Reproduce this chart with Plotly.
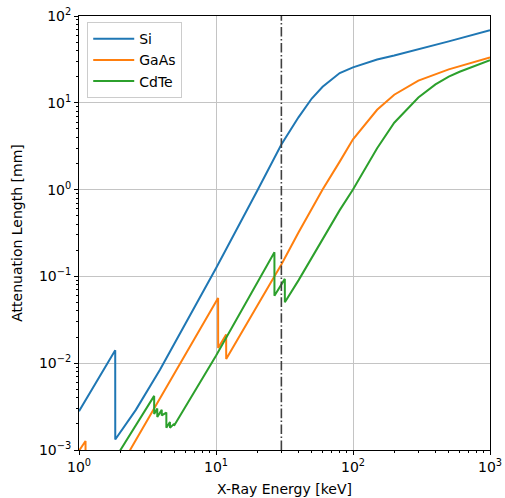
import plotly.graph_objects as go

# ---- data ----
si_energy = [1.0, 1.838, 1.839, 2.6, 3.9, 10, 20, 30, 40, 50, 60, 80, 100, 150, 200, 300, 500, 1000]
si_length = [0.00279, 0.0141, 0.00132, 0.0029, 0.0084, 0.124, 0.97, 3.3, 6.8, 11.2, 15.3, 22.0, 25.6, 31.5, 35.0, 41.0, 51.0, 68.5]

gaas_energy = [1.0, 1.116, 1.117, 2.36, 10.36, 10.37, 11.86, 11.87, 20, 30, 40, 50, 60, 80, 100, 150, 200, 300, 500, 1000]
gaas_length = [0.00098, 0.00127, 0.00022, 0.001, 0.0565, 0.015, 0.0214, 0.0112, 0.046, 0.137, 0.32, 0.6, 1.0, 2.1, 3.8, 8.3, 12.4, 18.0, 24.3, 33.4]

cdte_energy = [1.9, 3.537, 3.538, 3.727, 3.728, 4.018, 4.019, 4.341, 4.342, 4.612, 4.613, 4.939, 4.94,
               10, 26.70, 26.71, 31.80, 31.81, 40, 50, 60, 80, 100, 150, 200, 300, 400, 500, 600, 800, 1000]
cdte_length = [0.00087, 0.0042, 0.0026, 0.003, 0.0024, 0.0029, 0.0025, 0.0027, 0.0018, 0.0021, 0.0018, 0.002, 0.0019,
               0.0122, 0.19, 0.06, 0.0936, 0.0503, 0.09, 0.165, 0.27, 0.58, 1.0, 3.0, 5.9, 11.5, 16.3, 20.0, 22.8, 27.0, 31.0]

marker_energy = 30  # keV, dash-dot reference line

x_tickvals = [1, 10, 100, 1000]
x_ticktext = ["10<sup>0</sup>", "10<sup>1</sup>", "10<sup>2</sup>", "10<sup>3</sup>"]
y_tickvals = [1e-3, 1e-2, 1e-1, 1, 10, 100]
y_ticktext = ["10<sup>\u22123</sup>", "10<sup>\u22122</sup>", "10<sup>\u22121</sup>",
              "10<sup>0</sup>", "10<sup>1</sup>", "10<sup>2</sup>"]

x_range_log = [0, 3]
y_range_log = [-3, 2]

x_minor = [m * 10 ** d for d in range(0, 3) for m in range(2, 10)]
y_minor = [m * 10 ** d for d in range(-3, 2) for m in range(2, 10)]

colors = ["#1f77b4", "#ff7f0e", "#2ca02c"]

fig = go.Figure()
for name, xs, ys, c in [("Si", si_energy, si_length, colors[0]),
                        ("GaAs", gaas_energy, gaas_length, colors[1]),
                        ("CdTe", cdte_energy, cdte_length, colors[2])]:
    fig.add_trace(go.Scatter(x=xs, y=ys, mode="lines", name=name, legendgroup=name,
                             line=dict(color=c, width=2)))

fig.add_trace(go.Scatter(x=[marker_energy, marker_energy],
                         y=[10 ** y_range_log[0], 10 ** y_range_log[1]],
                         mode="lines", showlegend=False, hoverinfo="skip",
                         line=dict(color="#404040", width=1.6, dash="9.6px,2.4px,1.5px,2.4px")))

font = dict(family="DejaVu Sans", size=14, color="black")
axis_common = dict(type="log", showline=True, linecolor="black", linewidth=1, mirror=True,
                   ticks="outside", ticklen=4, tickwidth=1, tickcolor="black",
                   showgrid=True, gridcolor="#c4c4c4", gridwidth=1, zeroline=False,
                   tickfont=font, automargin=False, ticklabeloverflow="allow")

fig.update_layout(
    width=505, height=498,
    margin=dict(l=79, r=15, t=16, b=48),
    paper_bgcolor="white", plot_bgcolor="white",
    font=font,
    showlegend=True,
    legend=dict(x=0.02, y=0.986, xanchor="left", yanchor="top",
                bgcolor="rgba(255,255,255,0.8)", bordercolor="#cccccc", borderwidth=1,
                traceorder="grouped", tracegroupgap=0, font=font, itemwidth=41),
    xaxis=dict(axis_common, range=x_range_log, tickvals=x_tickvals, ticktext=x_ticktext,
               title=dict(text="X-Ray Energy [keV]", font=font, standoff=10),
               minor=dict(tickvals=x_minor, ticks="outside", ticklen=2, tickwidth=0.8,
                          tickcolor="black", showgrid=False)),
    yaxis=dict(axis_common, range=y_range_log, tickvals=y_tickvals, ticktext=y_ticktext,
               title=dict(text="Attenuation Length [mm]", font=font, standoff=13),
               minor=dict(tickvals=y_minor, ticks="outside", ticklen=2, tickwidth=0.8,
                          tickcolor="black", showgrid=False)),
)

# remove the browser's default 8px body margin so the figure fills the window
fig.write_html("out.html", config={"displayModeBar": False},
               post_script="document.body.style.margin='0px';document.body.style.overflow='hidden';")
